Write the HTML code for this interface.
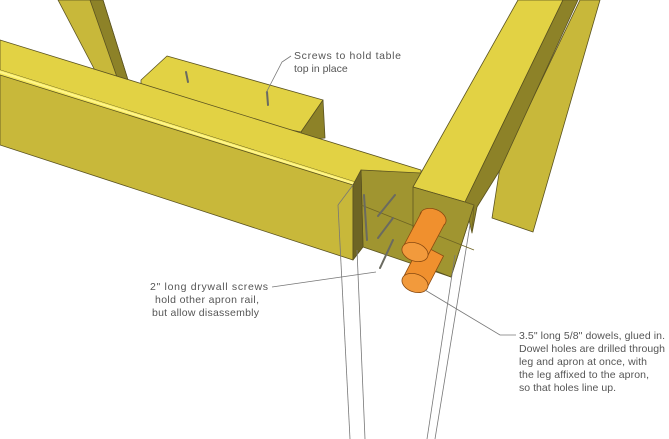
<!DOCTYPE html>
<html><head><style>
html,body{margin:0;padding:0;background:#fff;width:669px;height:439px;overflow:hidden}
svg{display:block}
text{font-family:"Liberation Sans",sans-serif;font-size:10.5px;fill:#555}
</style></head><body>
<svg width="669" height="439" viewBox="0 0 669 439" xmlns="http://www.w3.org/2000/svg">
<g stroke="#5a5220" stroke-width="0.8" stroke-linejoin="round">
<!-- background leg -->
<polygon points="58,0 103,0 128,80 100,80" fill="#c8b83a"/>
<polygon points="90,0 103,0 128,80 118,80" fill="#8d8228"/>
<!-- far right board -->
<polygon points="580,0 600,0 533,232 492,218 500,167" fill="#c8b83a"/>
<!-- cleat -->
<polygon points="141,80 167,56 323,100 301,132 141,100" fill="#e2d244"/>
<polygon points="301,132 323,100 325,138 305,140" fill="#8d8228"/>
<!-- apron rail -->
<polygon points="0,40 421,170 421,182 355,182 0,70" fill="#e2d244"/>
<polygon points="0,70 355,182 355,188 0,76" fill="#f5e85a" stroke="none"/>
<polygon points="0,75 353,185 353,260 0,145" fill="#c8b83a"/>
<line x1="0" y1="72" x2="355" y2="184" stroke="#fff58a" stroke-width="2"/>
<!-- end block -->
<polygon points="361,170 421,173 474,205 451,277 363,247" fill="#a09530"/>
<polygon points="353,185 361,170 363,247 353,260" fill="#6e6424"/>
<!-- right leg -->
<polygon points="518,0 563,0 465,202 413,187" fill="#e2d244"/>
<polygon points="563,0 578,0 500,170 477,207 472,233 465,202" fill="#8d8228"/>
<polygon points="413,187 465,202 474,205 451,277 413,262" fill="#a09530"/>
</g>
<!-- outline lines -->
<g stroke="#777" stroke-width="0.8" fill="none">
<polyline points="338,205 353,185"/>
<line x1="338" y1="205" x2="350" y2="439"/>
<line x1="357" y1="250" x2="365" y2="439"/>
<line x1="455" y1="255" x2="427" y2="439"/>
<line x1="470" y1="225" x2="435" y2="439"/>
<polyline points="413,187 413,262" stroke="#6e6424"/>
<polyline points="361,205 474,250" stroke="#6e6424"/>
<polyline points="465,202 474,205 472,233" stroke="#6e6424"/>
</g>
<!-- screws -->
<g stroke="#6a6a60" stroke-width="2" stroke-linecap="round">
<line x1="186" y1="72" x2="188" y2="82"/>
<line x1="267" y1="92" x2="268" y2="105"/>
<line x1="395" y1="195" x2="378" y2="216"/>
<line x1="393" y1="218" x2="378" y2="238"/>
<line x1="393" y1="240" x2="380" y2="268"/>
<line x1="364" y1="195" x2="367" y2="240"/>
</g>
<!-- dowels -->
<g stroke="#8a4a10" stroke-width="0.8" fill="#f0902e">
<polygon points="443.5,256 420.5,244 403.5,277 426.5,289"/>
<ellipse cx="415" cy="283" rx="13.5" ry="9" transform="rotate(20 415 283)" fill="#f29a3c"/>
<ellipse cx="433" cy="218" rx="13.5" ry="9" transform="rotate(20 433 218)"/>
<polygon points="444.5,224 421.5,212 403.5,246 426.5,258" stroke="none"/>
<line x1="444.5" y1="224" x2="426.5" y2="258"/>
<line x1="421.5" y1="212" x2="403.5" y2="246"/>
<ellipse cx="415" cy="252" rx="13.5" ry="9" transform="rotate(20 415 252)" fill="#f29a3c"/>
</g>
<!-- leaders -->
<g stroke="#777" stroke-width="0.8" fill="none">
<polyline points="266,93 282,62 291,56"/>
<polyline points="272,287 376,272"/>
<polyline points="425,290 500,335 516,335"/>
</g>
<text x="294" y="59" textLength="107">Screws to hold table</text>
<text x="294" y="72">top in place</text>
<g text-anchor="end">
<text x="268" y="290" textLength="118">2" long drywall screws</text>
<text x="259" y="303" textLength="104">hold other apron rail,</text>
<text x="259" y="316" textLength="107">but allow disassembly</text>
</g>
<text x="519" y="339" textLength="146">3.5" long 5/8" dowels, glued in.</text>
<text x="519" y="352" textLength="146">Dowel holes are drilled through</text>
<text x="519" y="365" textLength="128">leg and apron at once, with</text>
<text x="519" y="378" textLength="130">the leg affixed to the apron,</text>
<text x="519" y="391" textLength="97">so that holes line up.</text>
</svg>
</body></html>
